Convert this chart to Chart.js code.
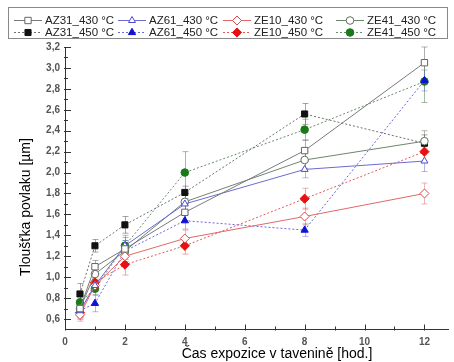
<!DOCTYPE html>
<html>
<head>
<meta charset="utf-8">
<script src="https://cdn.jsdelivr.net/npm/chart.js@4/dist/chart.umd.min.js"></script>
<style>
  html, body { margin: 0; padding: 0; background: #fff; }
  canvas { display: block; }
</style>
</head>
<body>
<canvas id="c" width="454" height="362"></canvas>
<script>
// Exposure time in the melt [h]
const hours = [0.5, 1, 2, 4, 8, 12];

// Coating thickness [µm] per alloy and melt temperature
const az31_430 = [0.70, 1.10, 1.27, 1.62, 2.21, 3.05];
const az31_450 = [0.84, 1.30, 1.50, 1.81, 2.56, 2.28];
const az61_430 = [0.68, 0.92, 1.30, 1.70, 2.03, 2.11];
const az61_450 = [0.68, 0.75, 1.25, 1.54, 1.45, 2.88];
const ze10_430 = [0.64, 0.92, 1.20, 1.37, 1.58, 1.80];
const ze10_450 = [0.66, 0.95, 1.12, 1.30, 1.75, 2.20];
const ze41_430 = [0.70, 1.03, 1.25, 1.72, 2.12, 2.30];
const ze41_450 = [0.76, 0.89, 1.30, 2.00, 2.41, 2.87];

// Standard deviations
const az31_430_err = [0.08, 0.06, 0.08, 0.08, 0.10, 0.15];
const az31_450_err = [0.10, 0.06, 0.08, 0.06, 0.10, 0.08];
const az61_430_err = [0.06, 0.05, 0.10, 0.10, 0.08, 0.10];
const az61_450_err = [0.08, 0.08, 0.10, 0.08, 0.06, 0.10];
const ze10_430_err = [0.06, 0.06, 0.08, 0.08, 0.08, 0.10];
const ze10_450_err = [0.06, 0.06, 0.10, 0.08, 0.10, 0.10];
const ze41_430_err = [0.08, 0.06, 0.08, 0.08, 0.08, 0.10];
const ze41_450_err = [0.08, 0.06, 0.08, 0.20, 0.10, 0.20];

const seriesLabels = ['AZ31_430 °C', 'AZ61_430 °C', 'ZE10_430 °C', 'ZE41_430 °C',
                      'AZ31_450 °C', 'AZ61_450 °C', 'ZE10_450 °C', 'ZE41_450 °C'];
const yTickValues = [0.6, 0.8, 1.0, 1.2, 1.4, 1.6, 1.8, 2.0, 2.2, 2.4, 2.6, 2.8, 3.0, 3.2];
const xTickValues = [0, 2, 4, 6, 8, 10, 12];

function series(label, values, errs, style) {
  return Object.assign({
    label: label,
    data: hours.map((h, i) => ({ x: h, y: values[i] })),
    errors: errs,
    borderWidth: 1,
    pointBorderWidth: 1,
    pointHoverRadius: 4,
    tension: 0,
    fill: false
  }, style);
}

const datasets = [
  series(seriesLabels[0], az31_430, az31_430_err, {
    borderColor: '#7a7a7a', pointBorderColor: '#666', pointBackgroundColor: '#fff',
    pointStyle: 'rect', pointRadius: 4.5, errColor: 'rgba(110,110,110,0.55)' }),
  series(seriesLabels[1], az61_430, az61_430_err, {
    borderColor: '#6b6bd0', pointBorderColor: '#4b4bd0', pointBackgroundColor: '#fff',
    pointStyle: 'triangle', pointRadius: 4, errColor: 'rgba(90,90,200,0.45)' }),
  series(seriesLabels[2], ze10_430, ze10_430_err, {
    borderColor: '#e06868', pointBorderColor: '#e04848', pointBackgroundColor: '#fff',
    pointStyle: 'rectRot', pointRadius: 4.5, errColor: 'rgba(220,110,110,0.5)' }),
  series(seriesLabels[3], ze41_430, ze41_430_err, {
    borderColor: '#6f846f', pointBorderColor: '#5f705f', pointBackgroundColor: '#fff',
    pointStyle: 'circle', pointRadius: 3.8, errColor: 'rgba(100,120,100,0.5)' }),
  series(seriesLabels[4], az31_450, az31_450_err, {
    borderColor: '#707070', borderDash: [2, 2], pointBorderColor: '#111', pointBackgroundColor: '#111',
    pointStyle: 'rect', pointRadius: 4.3, errColor: 'rgba(80,80,80,0.5)' }),
  series(seriesLabels[5], az61_450, az61_450_err, {
    borderColor: '#6a6ad8', borderDash: [2, 2], pointBorderColor: '#1010d8', pointBackgroundColor: '#1010d8',
    pointStyle: 'triangle', pointRadius: 4.2, errColor: 'rgba(90,90,220,0.45)' }),
  series(seriesLabels[6], ze10_450, ze10_450_err, {
    borderColor: '#e05a5a', borderDash: [2, 2], pointBorderColor: '#e81010', pointBackgroundColor: '#e81010',
    pointStyle: 'rectRot', pointRadius: 4.6, errColor: 'rgba(230,90,90,0.5)' }),
  series(seriesLabels[7], ze41_450, ze41_450_err, {
    borderColor: '#6a8a6a', borderDash: [2, 2], pointBorderColor: '#1a7a1a', pointBackgroundColor: '#1a7a1a',
    pointStyle: 'circle', pointRadius: 3.8, errColor: 'rgba(90,130,90,0.55)' })
];

// Vertical error bars with small caps
const errorBars = {
  id: 'errorBars',
  beforeDatasetsDraw(chart) {
    const ctx = chart.ctx, xs = chart.scales.x, ys = chart.scales.y;
    ctx.save();
    chart.data.datasets.forEach(ds => {
      ctx.strokeStyle = ds.errColor;
      ctx.lineWidth = 1;
      ds.data.forEach((p, i) => {
        const e = ds.errors[i];
        const px = Math.round(xs.getPixelForValue(p.x)) + 0.5;
        const top = ys.getPixelForValue(p.y + e), bot = ys.getPixelForValue(p.y - e);
        ctx.beginPath();
        ctx.moveTo(px, top); ctx.lineTo(px, bot);
        ctx.moveTo(px - 3, top); ctx.lineTo(px + 3, top);
        ctx.moveTo(px - 3, bot); ctx.lineTo(px + 3, bot);
        ctx.stroke();
      });
    });
    ctx.restore();
  }
};

// Inward major/minor tick marks, axis titles and the boxed legend
const decorations = {
  id: 'decorations',
  afterDraw(chart) {
    const ctx = chart.ctx, xs = chart.scales.x, ys = chart.scales.y, a = chart.chartArea;
    ctx.save();
    ctx.strokeStyle = '#333';
    ctx.lineWidth = 1;
    ctx.beginPath();
    for (let v = 0; v <= 12; v++) {
      const px = Math.round(xs.getPixelForValue(v)) + 0.5;
      const len = v % 2 === 0 ? 5 : 3;
      ctx.moveTo(px, a.bottom + 1); ctx.lineTo(px, a.bottom - len);
    }
    for (let k = 6; k <= 32; k++) {
      const py = Math.round(ys.getPixelForValue(k / 10)) + 0.5;
      const len = k % 2 === 0 ? 6 : 3;
      ctx.moveTo(a.left - 1, py); ctx.lineTo(a.left + len, py);
    }
    ctx.stroke();

    // axis titles
    ctx.fillStyle = '#000';
    ctx.font = '14px "Liberation Sans", Arial, sans-serif';
    ctx.textAlign = 'center';
    ctx.textBaseline = 'middle';
    ctx.fillText('Čas expozice v tavenině [hod.]', 277, 354);
    ctx.save();
    ctx.translate(26, 207);
    ctx.rotate(-Math.PI / 2);
    ctx.fillText('Tloušťka povlaku [µm]', 0, 0);
    ctx.restore();

    // legend
    ctx.fillStyle = '#fff';
    ctx.fillRect(8, 7, 440, 32);
    ctx.strokeStyle = '#888';
    ctx.strokeRect(8.5, 7.5, 439, 31);
    const lineStarts = [14, 118, 223, 336];
    const rowsY = [20, 32];
    ctx.font = '11.5px "Liberation Sans", Arial, sans-serif';
    ctx.textAlign = 'left';
    chart.data.datasets.forEach((ds, i) => {
      const col = i % 4, row = Math.floor(i / 4);
      const x0 = lineStarts[col], y = rowsY[row];
      ctx.save();
      ctx.strokeStyle = ds.borderColor;
      ctx.lineWidth = 1;
      ctx.setLineDash(ds.borderDash || []);
      ctx.beginPath();
      ctx.moveTo(x0, y + 0.5); ctx.lineTo(x0 + 28, y + 0.5);
      ctx.stroke();
      ctx.setLineDash([]);
      ctx.fillStyle = ds.pointBackgroundColor;
      ctx.strokeStyle = ds.pointBorderColor;
      Chart.helpers.drawPoint(ctx, {
        pointStyle: ds.pointStyle, radius: ds.pointRadius, borderWidth: 1, rotation: 0
      }, x0 + 14, y + 0.5);
      ctx.restore();
      ctx.fillStyle = '#222';
      ctx.fillText(ds.label, x0 + 31, y + 1);
    });
    ctx.restore();
  }
};

new Chart(document.getElementById('c'), {
  type: 'line',
  data: { datasets: datasets },
  plugins: [errorBars, decorations],
  options: {
    responsive: false,
    animation: false,
    events: [],
    layout: { padding: { top: 47, right: 1, left: 0, bottom: 0 } },
    plugins: { legend: { display: false }, tooltip: { enabled: false } },
    scales: {
      x: {
        type: 'linear', min: 0, max: 12.8,
        afterBuildTicks: s => { s.ticks = xTickValues.map(v => ({ value: v })); },
        afterFit: s => { s.height = 32.5; },
        grid: { display: false, drawTicks: false },
        border: { display: true, color: '#333', width: 1 },
        ticks: {
          padding: 7, color: '#555',
          font: { size: 10, weight: 'bold', family: '"Liberation Sans", Arial, sans-serif' },
          callback: v => String(v)
        }
      },
      y: {
        type: 'linear', min: 0.5, max: 3.2,
        afterBuildTicks: s => { s.ticks = yTickValues.map(v => ({ value: v })); },
        afterFit: s => { s.width = 65; },
        grid: { display: false, drawTicks: false },
        border: { display: true, color: '#333', width: 1 },
        ticks: {
          padding: 5, color: '#555',
          font: { size: 10, weight: 'bold', family: '"Liberation Sans", Arial, sans-serif' },
          callback: v => v.toFixed(1).replace('.', ',')
        }
      }
    }
  }
});
</script>
</body>
</html>
